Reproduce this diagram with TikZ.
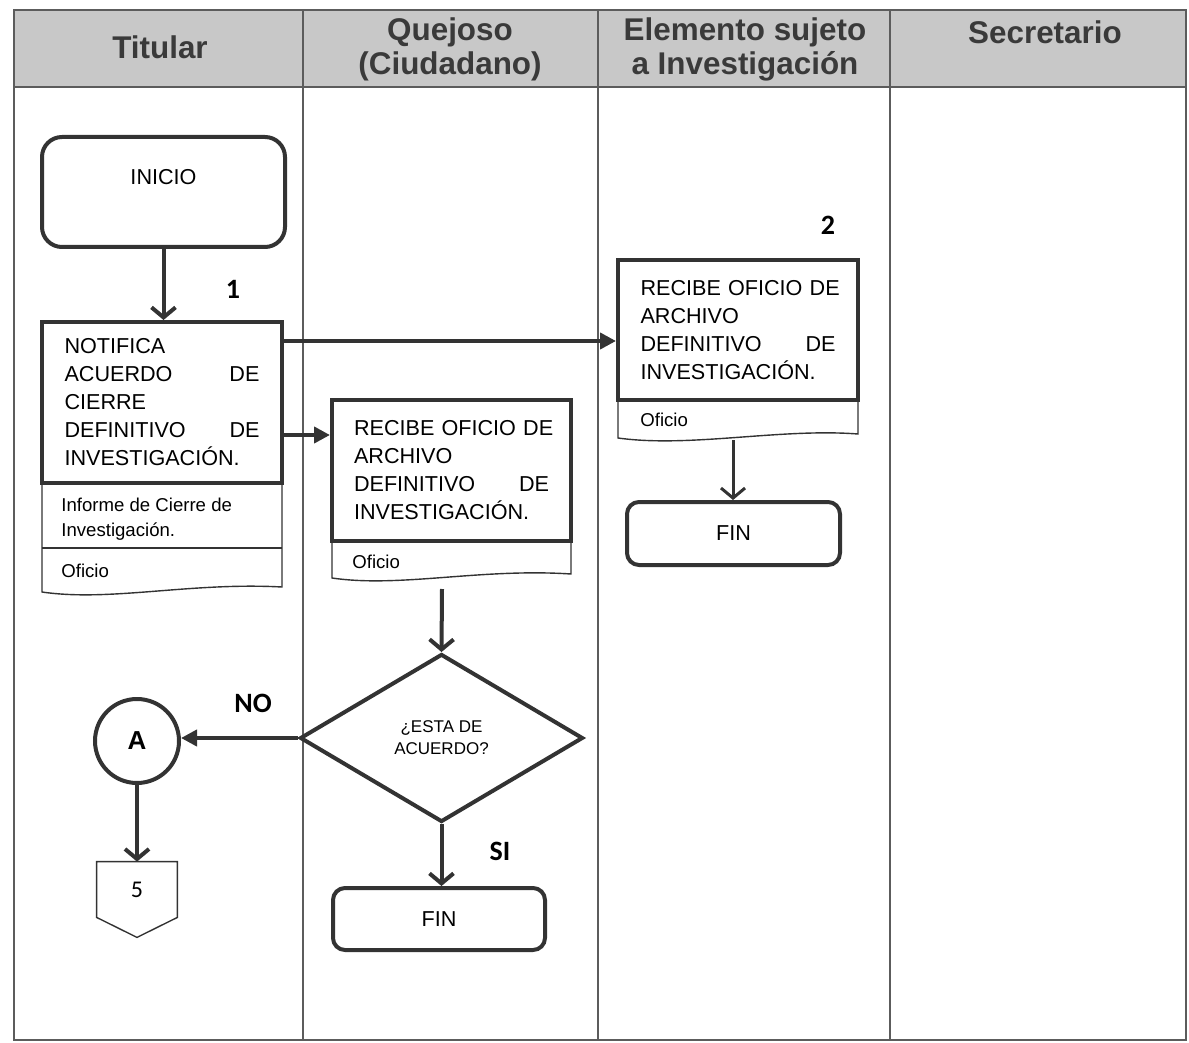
\documentclass[tikz,border=0pt]{standalone}
\usepackage{fontspec}
\setmainfont{Liberation Sans}
\newfontfamily\calibri{Carlito}
\usetikzlibrary{arrows.meta,shapes.geometric}

\definecolor{linea}{HTML}{333333}
\definecolor{encabezado}{HTML}{C8C8C8}
\definecolor{textoenc}{HTML}{3A3A3A}

\tikzset{
  carril/.style={draw=linea!80,line width=0.7pt},
  titulo/.style={text=textoenc,font=\fontsize{15.7}{17}\selectfont\bfseries,align=center},
  proceso/.style={draw=linea,line width=2pt,minimum width=120pt,minimum height=70pt,
    text width=97.5pt,align=left,font=\fontsize{10.8}{14}\selectfont,inner sep=0pt},
  terminal/.style={draw=linea,line width=2pt,rounded corners=6pt,font=\fontsize{10.8}{14}\selectfont},
  decision/.style={diamond,draw=linea,line width=2pt,aspect=1.68,minimum width=141.5pt,
    minimum height=84pt,inner sep=0pt,align=center,font=\fontsize{8.5}{11}\selectfont},
  conector/.style={circle,draw=linea,line width=2pt,minimum size=42pt,font=\fontsize{13}{15}\selectfont\bfseries},
  documento/.style={draw=linea,line width=0.7pt},
  doctxt/.style={font=\fontsize{9.3}{12.5}\selectfont,align=left,inner sep=2pt},
  paso/.style={font=\calibri\bfseries\fontsize{14}{16}\selectfont},
  flecha/.style={draw=linea,line width=2pt,-{Triangle[length=8pt,width=8pt]}},
  flechav/.style={draw=linea,line width=2pt,-{Straight Barb[length=5pt,width=12pt]}},
}

\begin{document}
\begin{tikzpicture}[x=0.5pt,y=-0.5pt]
  \useasboundingbox (0,0) rectangle (1189,1043);

  \fill[encabezado] (14,10) rectangle (1186,87);
  \draw[carril] (14,10) rectangle (1186,1040);
  \draw[carril] (14,87) -- (1186,87);
  \foreach \x in {303,598,890}
    \draw[carril] (\x,10) -- (\x,1040);

  \node[titulo] (ttitular) at (160,47) {Titular};
  \node[titulo] (tquejoso) at (450,49) {Quejoso\\(Ciudadano)};
  \node[titulo] (telemento) at (745,49) {Elemento sujeto\\a Investigación};
  \node[titulo] (tsecretario) at (1045,32) {Secretario};

  \node[terminal,rounded corners=10pt,minimum width=121.5pt,minimum height=55pt,text depth=15pt] (inicio) at (163.5,192) {INICIO};

  \node[paso] (n1) at (233,289) {1};
  \node[proceso,minimum height=80.5pt] (notifica) at (162,402.5)
    {NOTIFICA\\ ACUERDO\hfill DE\\ CIERRE\\ DEFINITIVO\hfill DE\\ INVESTIGACIÓN.};
  \draw[documento] (42,483) -- (42,592) .. controls (110,602) and (190,582) .. (282,587) -- (282,483);
  \draw[documento] (42,548) -- (282,548);
  \node[doctxt,anchor=west] (notinf) at (57,519) {Informe de Cierre de\\ Investigación.};
  \node[doctxt,anchor=west] (notofi) at (57,571) {Oficio};

  \node[proceso,minimum width=119.5pt,minimum height=70.5pt] (recibeq) at (451.5,470.5)
    {\mbox{RECIBE OFICIO DE}\\ ARCHIVO\\ DEFINITIVO\hfill DE\\ INVESTIGACIÓN.};
  \draw[documento] (332,541) -- (332,578) .. controls (400,588) and (480,568) .. (571,574) -- (571,541);
  \node[doctxt,anchor=west] (qofi) at (348,562) {Oficio};

  \node[paso] (n2) at (828,225) {2};
  \node[proceso] (recibee) at (738,330)
    {\mbox{RECIBE OFICIO DE}\\ ARCHIVO\\ DEFINITIVO\hfill DE\\ INVESTIGACIÓN.};
  \draw[documento] (618,400) -- (618,438) .. controls (690,448) and (780,428) .. (858,434) -- (858,400);
  \node[doctxt,anchor=west] (eofi) at (636,420) {Oficio};

  \node[terminal,minimum width=106.5pt,minimum height=31.5pt] (fine) at (733.5,533.5) {FIN};

  \node[decision] (acuerdo) at (441.5,738) {¿ESTA DE\\ ACUERDO?};
  \node[paso] (no) at (253,703) {NO};
  \node[paso] (si) at (500,851) {SI};
  \node[conector] (cona) at (137,741) {A};
  \node[font=\calibri\fontsize{12}{14}\selectfont,minimum width=40pt,minimum height=27.5pt,inner sep=0pt] (pag5) at (137,889.5) {5};
  \draw[documento] (pag5.south west) -- (pag5.north west) -- (pag5.north east) -- (pag5.south east)
    -- ([yshift=-10pt]pag5.south) -- cycle;
  \node[terminal,minimum width=106pt,minimum height=31pt] (finq) at (439,919) {FIN};

  \coordinate (s1) at ([yshift=-10.5pt]notifica.north east);
  \coordinate (s2) at ([yshift=-57.5pt]notifica.north east);
  \coordinate (qdoc) at (442,589);
  \coordinate (edoc) at (733,440);

  \draw[flechav] (inicio.south) -- (inicio.south |- notifica.north);
  \draw[flecha] (s1) -- (s1 -| recibee.west);
  \draw[flecha] (s2) -- (s2 -| recibeq.west);
  \draw[flechav] (qdoc) -- (acuerdo.north);
  \draw[flecha] (acuerdo.west) -- (acuerdo.west -| cona.east);
  \draw[flechav] (cona.south) -- (pag5.north);
  \draw[flechav] (acuerdo.south) -- (acuerdo.south |- finq.north);
  \draw[flechav,line width=1.5pt] (edoc) -- (edoc |- fine.north);
\end{tikzpicture}
\end{document}
